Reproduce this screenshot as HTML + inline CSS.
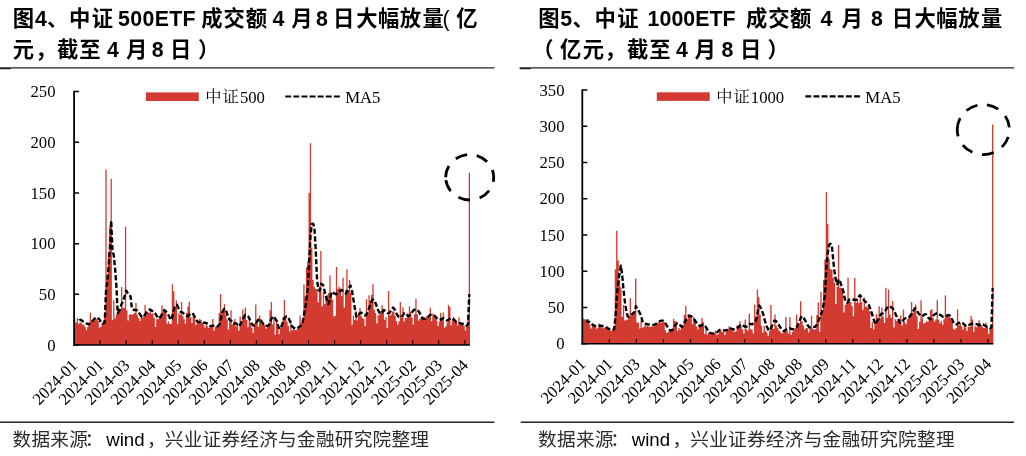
<!DOCTYPE html>
<html lang="zh"><head><meta charset="utf-8"><title>ETF</title>
<style>html,body{margin:0;padding:0;background:#fff}body{width:1026px;height:456px;overflow:hidden;font-family:"Liberation Sans",sans-serif}svg{display:block;filter:blur(0.4px)}</style></head><body>
<svg width="1026" height="456" viewBox="0 0 1026 456">
<title>中证500ETF与中证1000ETF成交额（亿元，截至4月8日）</title>
<desc>图4、中证 500ETF 成交额 4 月 8 日大幅放量；图5、中证 1000ETF 成交额 4 月 8 日大幅放量。图例：中证500 / 中证1000、MA5。数据来源：wind，兴业证券经济与金融研究院整理</desc>
<rect width="1026" height="456" fill="#fff"/>
<g stroke="#222" stroke-width="1.4">
<path d="M0 67.9H494.5M519.7 67.9H1014.2M0 422.3H494.4M520.7 422.3H1014"/>
<path stroke-width="1.1" d="M0 68.6H11M519.7 68.6H531"/>
</g>
<g aria-label="图4、中证 500ETF 成交额 4 月 8 日大幅放量( 亿元，截至 4 月 8 日 )">
<text y="26.00" x="12.67 47.02 68.94 91.78" font-family="'Liberation Sans', 'Noto Sans CJK SC', sans-serif" font-size="21.33" font-weight="bold" fill="#000">图、中证</text>
<text y="26.00" x="201.19 223.59 245.81" font-family="'Liberation Sans', 'Noto Sans CJK SC', sans-serif" font-size="21.33" font-weight="bold" fill="#000">成交额</text>
<text y="26.00" x="291.27" font-family="'Liberation Sans', 'Noto Sans CJK SC', sans-serif" font-size="21.33" font-weight="bold" fill="#000">月</text>
<text y="26.00" x="333.10 356.30 378.11 399.68 422.60" font-family="'Liberation Sans', 'Noto Sans CJK SC', sans-serif" font-size="21.33" font-weight="bold" fill="#000">日大幅放量</text>
<text y="26.00" x="456.22" font-family="'Liberation Sans', 'Noto Sans CJK SC', sans-serif" font-size="21.33" font-weight="bold" fill="#000">亿</text>
<text x="34.90" y="26.30" font-family="'Liberation Sans', sans-serif" font-size="21.33" font-weight="bold" fill="#000" text-anchor="start">4</text>
<text x="118.00" y="26.30" font-family="'Liberation Sans', sans-serif" font-size="21.33" font-weight="bold" fill="#000" text-anchor="start" letter-spacing="0.35">500ETF</text>
<text x="272.60" y="26.30" font-family="'Liberation Sans', sans-serif" font-size="21.33" font-weight="bold" fill="#000" text-anchor="start">4</text>
<text x="316.00" y="26.30" font-family="'Liberation Sans', sans-serif" font-size="21.33" font-weight="bold" fill="#000" text-anchor="start">8</text>
<text x="442.40" y="26.30" font-family="'Liberation Sans', sans-serif" font-size="21.33" font-weight="normal" fill="#000" text-anchor="start">(</text>
<text y="56.90" x="12.65 35.22 56.93 79.30" font-family="'Liberation Sans', 'Noto Sans CJK SC', sans-serif" font-size="21.33" font-weight="bold" fill="#000">元，截至</text>
<text y="56.90" x="126.02" font-family="'Liberation Sans', 'Noto Sans CJK SC', sans-serif" font-size="21.33" font-weight="bold" fill="#000">月</text>
<text y="56.90" x="170.10" font-family="'Liberation Sans', 'Noto Sans CJK SC', sans-serif" font-size="21.33" font-weight="bold" fill="#000">日</text>
<text y="56.90" x="197.92" font-family="'Liberation Sans', 'Noto Sans CJK SC', sans-serif" font-size="21.33" font-weight="bold" fill="#000">）</text>
<text x="107.10" y="57.00" font-family="'Liberation Sans', sans-serif" font-size="21.33" font-weight="bold" fill="#000" text-anchor="start">4</text>
<text x="151.70" y="57.00" font-family="'Liberation Sans', sans-serif" font-size="21.33" font-weight="bold" fill="#000" text-anchor="start">8</text>
</g>
<g aria-label="图5、中证 1000ETF 成交额 4 月 8 日大幅放量（亿元，截至 4 月 8 日）">
<text y="26.00" x="538.17 572.42 594.44 617.23" font-family="'Liberation Sans', 'Noto Sans CJK SC', sans-serif" font-size="21.33" font-weight="bold" fill="#000">图、中证</text>
<text y="26.00" x="746.04 768.14 789.96" font-family="'Liberation Sans', 'Noto Sans CJK SC', sans-serif" font-size="21.33" font-weight="bold" fill="#000">成交额</text>
<text y="26.00" x="841.62" font-family="'Liberation Sans', 'Noto Sans CJK SC', sans-serif" font-size="21.33" font-weight="bold" fill="#000">月</text>
<text y="26.00" x="891.75 914.60 936.31 958.33 981.00" font-family="'Liberation Sans', 'Noto Sans CJK SC', sans-serif" font-size="21.33" font-weight="bold" fill="#000">日大幅放量</text>
<text x="560.20" y="26.30" font-family="'Liberation Sans', sans-serif" font-size="21.33" font-weight="bold" fill="#000" text-anchor="start">5</text>
<text x="647.60" y="26.30" font-family="'Liberation Sans', sans-serif" font-size="21.33" font-weight="bold" fill="#000" text-anchor="start" letter-spacing="0.05">1000ETF</text>
<text x="820.60" y="26.30" font-family="'Liberation Sans', sans-serif" font-size="21.33" font-weight="bold" fill="#000" text-anchor="start">4</text>
<text x="870.90" y="26.30" font-family="'Liberation Sans', sans-serif" font-size="21.33" font-weight="bold" fill="#000" text-anchor="start">8</text>
<text y="56.90" x="532.25 560.12 582.70 604.62 626.88 649.15" font-family="'Liberation Sans', 'Noto Sans CJK SC', sans-serif" font-size="21.33" font-weight="bold" fill="#000">（亿元，截至</text>
<text y="56.90" x="694.47" font-family="'Liberation Sans', 'Noto Sans CJK SC', sans-serif" font-size="21.33" font-weight="bold" fill="#000">月</text>
<text y="56.90" x="739.90" font-family="'Liberation Sans', 'Noto Sans CJK SC', sans-serif" font-size="21.33" font-weight="bold" fill="#000">日</text>
<text y="56.90" x="767.62" font-family="'Liberation Sans', 'Noto Sans CJK SC', sans-serif" font-size="21.33" font-weight="bold" fill="#000">）</text>
<text x="676.00" y="57.00" font-family="'Liberation Sans', sans-serif" font-size="21.33" font-weight="bold" fill="#000" text-anchor="start">4</text>
<text x="721.50" y="57.00" font-family="'Liberation Sans', sans-serif" font-size="21.33" font-weight="bold" fill="#000" text-anchor="start">8</text>
</g>
<g aria-label="数据来源：wind，兴业证券经济与金融研究院整理">
<text y="445.60" x="12.57 31.47 50.37 69.27 84.78" font-family="'Liberation Sans', 'Noto Sans CJK SC', sans-serif" font-size="18.67" fill="#2b2b2b">数据来源：</text>
<text x="106.20" y="445.90" font-family="'Liberation Sans', sans-serif" font-size="18.67" font-weight="normal" fill="#000" text-anchor="start">wind</text>
<text y="445.60" x="146.96 164.76 183.65 202.54 221.43 240.32 259.21 278.10 296.99 315.88 334.77 353.66 372.55 391.44 410.33" font-family="'Liberation Sans', 'Noto Sans CJK SC', sans-serif" font-size="18.67" fill="#2b2b2b">，兴业证券经济与金融研究院整理</text>
</g>
<g aria-label="数据来源：wind，兴业证券经济与金融研究院整理">
<text y="445.60" x="538.12 557.02 575.92 594.82 610.33" font-family="'Liberation Sans', 'Noto Sans CJK SC', sans-serif" font-size="18.67" fill="#2b2b2b">数据来源：</text>
<text x="631.75" y="445.90" font-family="'Liberation Sans', sans-serif" font-size="18.67" font-weight="normal" fill="#000" text-anchor="start">wind</text>
<text y="445.60" x="672.51 690.31 709.20 728.09 746.98 765.87 784.76 803.65 822.54 841.43 860.32 879.21 898.10 916.99 935.88" font-family="'Liberation Sans', 'Noto Sans CJK SC', sans-serif" font-size="18.67" fill="#2b2b2b">，兴业证券经济与金融研究院整理</text>
</g>
<path fill="#d43b30" d="M74.10 345.00V319.5H75.40V322.7H76.70V318.1H78.01V323.7H79.31V322.2H80.61V323.0H81.91V324.7H83.22V324.4H84.52V327.1H85.82V330.3H87.12V327.1H88.43V324.6H89.73V312.7H91.03V320.5H92.33V321.5H93.63V320.7H94.94V319.0H96.24V318.9H97.54V321.1H98.84V327.7H100.15V326.7H101.45V322.9H102.75V320.4H104.05V315.6H105.36V169.6H106.66V276.6H107.96V252.4H109.26V225.7H110.56V178.8H111.87V319.9H113.17V300.4H114.47V318.5H115.77V314.6H117.08V312.9H118.38V311.7H119.68V310.3H120.98V286.9H122.29V307.4H123.59V308.1H124.89V226.4H126.19V310.3H127.49V320.5H128.80V314.7H130.10V313.9H131.40V315.0H132.70V314.1H134.01V313.1H135.31V303.0H136.61V314.8H137.91V318.1H139.21V321.0H140.52V317.5H141.82V318.1H143.12V315.5H144.42V305.1H145.73V314.6H147.03V312.3H148.33V313.0H149.63V311.3H150.94V314.0H152.24V313.2H153.54V318.1H154.84V327.1H156.14V319.1H157.45V319.2H158.75V316.3H160.05V315.3H161.35V305.3H162.66V312.0H163.96V310.1H165.26V312.4H166.56V323.8H167.87V321.5H169.17V324.1H170.47V324.0H171.77V284.3H173.07V291.2H174.38V308.9H175.68V300.4H176.98V324.0H178.28V313.2H179.59V314.6H180.89V302.0H182.19V316.0H183.49V319.2H184.80V323.7H186.10V312.9H187.40V306.5H188.70V301.7H190.00V317.2H191.31V323.0H192.61V316.3H193.91V317.0H195.21V324.9H196.52V320.3H197.82V321.1H199.12V319.1H200.42V319.9H201.73V322.7H203.03V324.7H204.33V327.5H205.63V322.8H206.93V326.3H208.24V328.1H209.54V326.8H210.84V326.7H212.14V319.0H213.45V330.5H214.75V326.7H216.05V326.0H217.35V325.8H218.66V312.9H219.96V294.0H221.26V313.6H222.56V311.2H223.86V304.3H225.17V314.6H226.47V319.6H227.77V329.5H229.07V321.6H230.38V310.3H231.68V324.9H232.98V321.8H234.28V319.0H235.59V326.4H236.89V324.6H238.19V330.4H239.49V316.3H240.79V324.1H242.10V309.8H243.40V316.0H244.70V307.5H246.00V319.9H247.31V327.2H248.61V320.9H249.91V322.8H251.21V327.7H252.52V333.1H253.82V323.0H255.12V304.5H256.42V323.3H257.72V326.7H259.03V315.5H260.33V319.1H261.63V324.6H262.93V324.3H264.24V324.7H265.54V328.8H266.84V327.5H268.14V323.4H269.44V310.2H270.75V301.9H272.05V324.2H273.35V317.9H274.65V334.7H275.96V320.0H277.26V328.0H278.56V334.3H279.86V328.1H281.17V324.9H282.47V317.6H283.77V299.9H285.07V317.5H286.37V321.7H287.68V325.9H288.98V331.6H290.28V320.3H291.58V330.5H292.89V327.0H294.19V330.0H295.49V330.2H296.79V329.0H298.10V328.0H299.40V315.4H300.70V322.7H302.00V321.7H303.30V284.4H304.61V296.4H305.91V267.2H307.21V261.2H308.51V193.0H309.82V143.3H311.12V247.5H312.42V280.1H313.72V287.0H315.03V289.0H316.33V289.5H317.63V302.3H318.93V286.4H320.23V251.1H321.54V306.5H322.84V292.0H324.14V304.3H325.44V296.1H326.75V294.9H328.05V293.0H329.35V275.4H330.65V293.1H331.96V299.6H333.26V316.6H334.56V315.8H335.86V267.1H337.16V288.9H338.47V286.6H339.77V288.5H341.07V296.3H342.37V277.8H343.68V307.4H344.98V290.0H346.28V269.2H347.58V290.3H348.89V279.9H350.19V292.7H351.49V324.7H352.79V315.4H354.09V320.1H355.40V311.0H356.70V320.2H358.00V312.4H359.30V307.9H360.61V316.0H361.91V317.9H363.21V319.1H364.51V326.1H365.82V299.3H367.12V313.6H368.42V295.3H369.72V300.5H371.02V294.8H372.33V284.3H373.63V309.8H374.93V313.1H376.23V323.6H377.54V315.6H378.84V314.6H380.14V311.2H381.44V305.2H382.75V309.0H384.05V319.7H385.35V317.2H386.65V328.0H387.95V291.0H389.26V315.6H390.56V314.6H391.86V311.6H393.16V311.5H394.47V315.9H395.77V320.9H397.07V324.8H398.37V321.6H399.67V302.1H400.98V317.9H402.28V307.3H403.58V321.4H404.88V317.7H406.19V318.1H407.49V316.2H408.79V306.2H410.09V311.7H411.40V317.7H412.70V324.4H414.00V314.1H415.30V298.7H416.60V314.2H417.91V320.7H419.21V318.8H420.51V318.0H421.81V317.4H423.12V318.7H424.42V318.0H425.72V316.1H427.02V318.0H428.33V314.8H429.63V307.8H430.93V321.2H432.23V313.5H433.53V316.9H434.84V318.6H436.14V320.6H437.44V326.1H438.74V321.4H440.05V312.8H441.35V320.0H442.65V312.5H443.95V327.8H445.26V326.3H446.56V322.4H447.86V305.1H449.16V307.1H450.46V325.2H451.77V319.1H453.07V316.9H454.37V320.6H455.67V321.7H456.98V325.4H458.28V317.2H459.58V323.3H460.88V324.0H462.19V323.9H463.49V325.9H464.79V330.4H466.09V324.7H467.39V316.4H468.70V172.7H470.00V345.00Z"/>
<polyline fill="none" stroke="#000" stroke-width="2.4" stroke-dasharray="5.2 2.4" stroke-linejoin="round" points="79.4,319.0 79.5,319.2 81.9,320.6 85.0,322.8 88.8,324.4 91.9,321.9 94.4,318.8 96.9,317.2 99.4,319.4 101.2,322.8 103.1,323.5 104.7,322.7 106.0,291.1 107.3,281.0 108.6,266.9 109.9,248.0 111.2,220.6 112.5,250.7 113.8,255.4 115.1,268.7 116.4,286.4 117.7,313.3 119.4,310.6 121.2,305.0 123.1,301.2 125.0,295.0 126.2,290.6 128.8,295.0 130.6,296.2 131.2,302.5 131.9,308.8 133.8,310.0 135.6,309.8 137.5,310.6 140.0,314.4 141.9,316.9 143.8,316.2 145.6,313.8 147.5,310.6 150.0,309.4 152.5,311.2 155.0,313.1 156.9,316.2 158.8,318.5 160.6,316.9 162.5,313.1 164.4,310.0 166.2,311.9 168.8,315.6 170.6,320.0 171.9,318.8 173.1,312.5 175.0,306.2 176.9,304.8 178.8,308.8 180.6,311.9 182.5,312.5 185.0,315.0 187.5,316.2 190.0,314.4 192.5,313.1 194.4,316.2 196.2,320.0 198.0,321.9 200.5,322.2 203.0,322.8 205.5,322.8 208.0,323.8 210.5,326.2 213.0,325.6 215.5,326.2 218.0,326.2 219.9,323.8 221.1,317.5 222.4,311.9 224.2,308.8 226.1,310.6 228.0,316.9 229.9,320.0 231.8,321.2 233.6,323.8 235.5,323.1 237.4,324.4 239.2,326.2 241.1,323.1 243.0,318.8 244.9,315.0 246.8,315.6 248.6,316.9 250.5,321.2 252.4,325.0 254.2,325.6 256.1,323.1 258.0,320.0 259.9,318.8 261.8,321.9 263.6,324.4 265.5,325.0 267.4,326.2 269.2,325.0 271.1,319.4 273.0,316.2 274.9,318.1 276.8,321.2 278.6,327.5 280.5,328.8 282.4,323.8 284.2,318.1 286.1,316.5 288.0,316.9 289.9,321.2 291.8,326.2 293.6,327.5 295.5,328.8 297.4,328.1 299.2,326.9 301.1,325.6 302.4,323.8 304.0,314.4 305.3,308.1 306.6,298.5 307.9,286.2 309.2,260.4 310.5,235.5 311.8,223.9 313.1,223.6 314.4,227.4 315.7,249.4 317.0,278.6 318.3,289.6 319.6,290.8 321.2,283.8 323.1,285.0 325.0,292.5 326.9,300.0 328.5,304.2 330.0,298.8 331.6,291.8 333.8,293.1 336.0,294.2 338.8,292.5 341.6,289.9 343.8,291.9 346.0,293.6 348.1,290.0 350.4,285.5 351.9,290.0 353.1,297.5 354.8,308.0 356.2,316.2 357.5,316.9 359.4,313.8 361.2,312.5 363.1,314.4 365.0,315.6 366.9,313.8 368.8,308.8 370.6,303.8 372.5,299.4 374.4,300.0 376.2,305.0 378.1,310.0 380.0,313.8 381.9,312.5 383.8,310.0 385.6,311.2 387.5,313.1 389.4,313.1 391.2,310.0 393.1,307.5 395.0,310.0 396.9,314.4 398.8,316.9 400.6,317.5 402.5,315.6 404.4,313.1 406.2,313.8 408.1,316.2 410.0,315.0 411.9,312.5 413.8,310.0 415.6,309.4 417.5,310.0 419.4,312.5 421.2,316.2 423.1,318.8 425.0,318.8 426.9,316.9 428.1,316.9 430.0,315.0 431.9,314.4 433.8,315.0 435.6,316.9 437.5,318.8 439.4,320.0 441.2,319.4 443.1,318.1 445.0,319.4 446.9,320.6 448.8,319.4 450.6,318.1 452.5,318.5 454.4,320.0 456.2,321.9 458.1,323.1 460.0,323.1 461.9,323.8 463.8,324.0 465.6,324.4 466.7,325.7 468.0,324.2 469.3,294.0"/>
<g stroke="#000" stroke-width="1.5" fill="none">
<path stroke-width="1.8" d="M74.10 90.85V345.80"/>
<path stroke-width="1.6" d="M73.20 345.00H469.90"/>
<path d="M74.10 345.00h5M74.10 294.32h5M74.10 243.64h5M74.10 192.96h5M74.10 142.28h5M74.10 91.60h5"/>
<path stroke="#2a0000" stroke-width="1.25" d="M100.15 345.00v-4.8M126.19 345.00v-4.8M152.24 345.00v-4.8M178.28 345.00v-4.8M204.33 345.00v-4.8M230.38 345.00v-4.8M256.42 345.00v-4.8M282.47 345.00v-4.8M308.51 345.00v-4.8M334.56 345.00v-4.8M360.61 345.00v-4.8M386.65 345.00v-4.8M412.70 345.00v-4.8M438.74 345.00v-4.8M464.79 345.00v-4.8"/>
</g>
<text x="55.50" y="350.70" font-family="'Liberation Serif', sans-serif" font-size="16.7" font-weight="normal" fill="#000" text-anchor="end">0</text>
<text x="55.50" y="300.02" font-family="'Liberation Serif', sans-serif" font-size="16.7" font-weight="normal" fill="#000" text-anchor="end">50</text>
<text x="55.50" y="249.34" font-family="'Liberation Serif', sans-serif" font-size="16.7" font-weight="normal" fill="#000" text-anchor="end">100</text>
<text x="55.50" y="198.66" font-family="'Liberation Serif', sans-serif" font-size="16.7" font-weight="normal" fill="#000" text-anchor="end">150</text>
<text x="55.50" y="147.98" font-family="'Liberation Serif', sans-serif" font-size="16.7" font-weight="normal" fill="#000" text-anchor="end">200</text>
<text x="55.50" y="97.30" font-family="'Liberation Serif', sans-serif" font-size="16.7" font-weight="normal" fill="#000" text-anchor="end">250</text>
<text transform="translate(78.50 366.30) rotate(-45)" font-family="'Liberation Serif', serif" font-size="16.7" text-anchor="end">2024-01</text>
<text transform="translate(104.55 366.30) rotate(-45)" font-family="'Liberation Serif', serif" font-size="16.7" text-anchor="end">2024-01</text>
<text transform="translate(130.59 366.30) rotate(-45)" font-family="'Liberation Serif', serif" font-size="16.7" text-anchor="end">2024-03</text>
<text transform="translate(156.64 366.30) rotate(-45)" font-family="'Liberation Serif', serif" font-size="16.7" text-anchor="end">2024-04</text>
<text transform="translate(182.68 366.30) rotate(-45)" font-family="'Liberation Serif', serif" font-size="16.7" text-anchor="end">2024-05</text>
<text transform="translate(208.73 366.30) rotate(-45)" font-family="'Liberation Serif', serif" font-size="16.7" text-anchor="end">2024-06</text>
<text transform="translate(234.78 366.30) rotate(-45)" font-family="'Liberation Serif', serif" font-size="16.7" text-anchor="end">2024-07</text>
<text transform="translate(260.82 366.30) rotate(-45)" font-family="'Liberation Serif', serif" font-size="16.7" text-anchor="end">2024-08</text>
<text transform="translate(286.87 366.30) rotate(-45)" font-family="'Liberation Serif', serif" font-size="16.7" text-anchor="end">2024-08</text>
<text transform="translate(312.91 366.30) rotate(-45)" font-family="'Liberation Serif', serif" font-size="16.7" text-anchor="end">2024-09</text>
<text transform="translate(338.96 366.30) rotate(-45)" font-family="'Liberation Serif', serif" font-size="16.7" text-anchor="end">2024-11</text>
<text transform="translate(365.01 366.30) rotate(-45)" font-family="'Liberation Serif', serif" font-size="16.7" text-anchor="end">2024-12</text>
<text transform="translate(391.05 366.30) rotate(-45)" font-family="'Liberation Serif', serif" font-size="16.7" text-anchor="end">2024-12</text>
<text transform="translate(417.10 366.30) rotate(-45)" font-family="'Liberation Serif', serif" font-size="16.7" text-anchor="end">2025-02</text>
<text transform="translate(443.14 366.30) rotate(-45)" font-family="'Liberation Serif', serif" font-size="16.7" text-anchor="end">2025-03</text>
<text transform="translate(469.19 366.30) rotate(-45)" font-family="'Liberation Serif', serif" font-size="16.7" text-anchor="end">2025-04</text>
<path fill="#d43b30" d="M582.30 343.70V318.2H583.65V319.2H585.00V319.6H586.36V321.3H587.71V323.1H589.06V324.2H590.41V328.6H591.77V325.6H593.12V326.0H594.47V326.4H595.82V328.8H597.18V327.8H598.53V323.4H599.88V326.4H601.23V327.2H602.58V328.2H603.94V327.4H605.29V327.4H606.64V328.5H607.99V329.8H609.35V331.1H610.70V330.7H612.05V328.7H613.40V327.0H614.76V269.3H616.11V230.7H617.46V260.4H618.81V280.2H620.16V287.4H621.52V317.0H622.87V305.0H624.22V320.6H625.57V319.7H626.93V319.4H628.28V317.7H629.63V298.3H630.98V315.6H632.34V312.9H633.69V312.3H635.04V278.5H636.39V322.4H637.74V322.7H639.10V328.4H640.45V320.6H641.80V327.8H643.15V327.0H644.51V325.1H645.86V326.4H647.21V325.0H648.56V327.1H649.91V326.8H651.27V326.3H652.62V327.1H653.97V326.1H655.32V323.6H656.68V323.8H658.03V322.1H659.38V322.7H660.73V322.8H662.09V321.6H663.44V321.9H664.79V330.3H666.14V333.0H667.49V332.1H668.85V329.4H670.20V329.0H671.55V328.7H672.90V318.8H674.26V320.9H675.61V321.6H676.96V330.9H678.31V328.0H679.67V329.9H681.02V327.6H682.37V325.6H683.72V315.0H685.07V305.8H686.43V319.7H687.78V314.3H689.13V316.5H690.48V315.8H691.84V324.2H693.19V316.9H694.54V319.3H695.89V326.6H697.25V329.5H698.60V326.8H699.95V324.0H701.30V317.9H702.65V322.2H704.01V334.1H705.36V329.3H706.71V334.6H708.06V332.8H709.42V332.8H710.77V333.9H712.12V334.0H713.47V333.0H714.83V330.6H716.18V334.9H717.53V334.0H718.88V331.1H720.23V330.2H721.59V331.9H722.94V332.0H724.29V335.0H725.64V331.2H727.00V329.5H728.35V326.2H729.70V328.1H731.05V328.1H732.41V329.6H733.76V332.2H735.11V331.6H736.46V325.2H737.81V326.1H739.17V321.3H740.52V326.8H741.87V329.5H743.22V333.6H744.58V319.6H745.93V329.3H747.28V330.6H748.63V313.7H749.99V329.1H751.34V329.7H752.69V333.4H754.04V304.4H755.39V321.0H756.75V289.6H758.10V297.2H759.45V314.4H760.80V325.8H762.16V332.8H763.51V326.1H764.86V330.8H766.21V332.4H767.57V335.8H768.92V330.7H770.27V304.9H771.62V328.3H772.97V329.1H774.33V314.5H775.68V325.8H777.03V328.0H778.38V330.2H779.74V331.8H781.09V333.5H782.44V332.7H783.79V331.4H785.14V316.9H786.50V331.1H787.85V333.6H789.20V317.3H790.55V334.7H791.91V331.8H793.26V330.7H794.61V328.1H795.96V314.4H797.32V324.1H798.67V324.7H800.02V301.3H801.37V321.3H802.72V325.8H804.08V329.6H805.43V328.0H806.78V328.2H808.13V332.4H809.49V328.4H810.84V315.8H812.19V328.4H813.54V329.7H814.90V329.0H816.25V315.1H817.60V302.5H818.95V331.7H820.30V291.7H821.66V312.0H823.01V280.0H824.36V259.4H825.71V191.9H827.07V224.1H828.42V259.0H829.77V269.0H831.12V269.8H832.48V277.8H833.83V282.8H835.18V304.1H836.53V287.0H837.88V244.9H839.24V287.5H840.59V288.1H841.94V292.6H843.29V312.6H844.65V304.9H846.00V302.3H847.35V277.7H848.70V302.2H850.06V301.9H851.41V306.1H852.76V316.3H854.11V277.8H855.46V302.8H856.82V299.6H858.17V303.1H859.52V294.8H860.87V302.0H862.23V309.7H863.58V297.6H864.93V306.7H866.28V306.4H867.64V307.7H868.99V311.4H870.34V328.0H871.69V322.0H873.04V329.4H874.40V323.4H875.75V313.9H877.10V321.7H878.45V306.3H879.81V318.3H881.16V307.4H882.51V316.4H883.86V323.1H885.22V287.8H886.57V317.8H887.92V289.4H889.27V314.8H890.62V318.0H891.98V301.0H893.33V327.5H894.68V319.2H896.03V321.1H897.39V320.8H898.74V319.6H900.09V315.6H901.44V325.6H902.80V309.5H904.15V321.8H905.50V324.3H906.85V319.0H908.20V317.8H909.56V315.0H910.91V302.0H912.26V312.7H913.61V311.0H914.97V304.6H916.32V316.2H917.67V328.9H919.02V321.7H920.38V300.2H921.73V318.2H923.08V323.6H924.43V322.9H925.78V321.2H927.14V321.7H928.49V320.3H929.84V310.2H931.19V309.2H932.55V317.9H933.90V321.8H935.25V319.6H936.60V300.2H937.95V319.7H939.31V323.2H940.66V321.0H942.01V324.7H943.36V319.3H944.72V295.4H946.07V316.4H947.42V315.9H948.77V316.3H950.13V318.3H951.48V321.2H952.83V328.8H954.18V329.7H955.53V328.0H956.89V309.5H958.24V325.3H959.59V323.4H960.94V326.2H962.30V329.8H963.65V325.2H965.00V327.7H966.35V330.9H967.71V326.8H969.06V327.0H970.41V315.7H971.76V319.5H973.11V331.7H974.47V326.3H975.82V327.3H977.17V325.5H978.52V320.3H979.88V323.6H981.23V325.6H982.58V327.7H983.93V328.1H985.29V322.6H986.64V327.3H987.99V334.0H989.34V328.4H990.69V325.7H992.05V124.6H993.40V343.70Z"/>
<polyline fill="none" stroke="#000" stroke-width="2.4" stroke-dasharray="5.2 2.4" stroke-linejoin="round" points="587.4,319.4 587.5,322.0 589.9,321.9 592.4,324.4 594.9,326.0 597.4,326.5 599.9,325.6 602.4,326.0 604.9,326.5 607.4,328.1 609.9,329.4 612.4,328.8 614.1,329.5 615.4,317.3 616.8,297.3 618.1,283.2 619.5,273.5 620.8,265.6 622.2,275.1 623.5,290.0 624.9,302.0 626.2,309.9 627.6,316.3 628.6,316.9 630.5,315.6 632.4,313.8 634.2,312.5 635.2,310.0 635.8,306.2 637.4,308.8 639.2,311.9 641.1,315.6 642.4,321.2 644.2,323.5 646.1,324.0 648.6,324.4 651.1,325.0 653.6,325.0 656.1,323.8 658.6,321.9 661.1,320.6 663.0,320.6 664.9,322.5 666.8,325.6 668.6,328.8 670.5,330.6 672.4,330.0 674.2,326.9 676.1,323.8 678.0,323.1 679.9,325.0 681.8,326.9 683.6,325.0 685.5,320.6 687.4,317.5 689.2,315.6 691.1,316.2 693.0,318.1 694.9,320.6 696.8,323.1 698.6,325.0 700.0,326.2 702.5,325.0 705.0,325.6 706.9,328.8 709.4,332.5 711.9,333.5 714.4,333.5 716.9,332.5 719.4,330.0 721.9,329.8 724.4,330.6 726.9,330.0 729.4,328.1 731.9,328.8 734.4,329.4 736.9,328.1 739.4,326.2 741.2,324.4 743.1,325.6 745.6,326.9 748.1,326.2 750.0,323.8 751.9,324.4 753.8,323.1 755.6,321.2 756.9,316.2 758.1,310.0 759.4,305.6 761.2,308.8 763.1,313.8 765.0,321.2 766.9,326.9 768.8,330.6 770.6,328.8 772.5,325.0 774.4,320.6 776.2,321.2 778.1,323.8 780.0,326.9 781.9,329.4 783.8,331.2 785.6,330.0 787.5,328.8 789.4,328.1 791.2,328.8 793.1,329.4 795.0,328.8 796.9,326.9 798.8,323.1 800.6,318.1 801.9,316.2 803.8,318.1 805.6,321.2 807.5,325.0 809.4,327.5 811.2,326.9 813.1,326.9 815.0,326.9 816.9,324.4 818.8,320.0 821.0,314.0 822.3,310.6 823.7,303.6 825.0,295.0 826.4,267.0 827.7,253.5 829.1,244.8 830.4,243.7 831.8,245.2 833.2,260.0 834.5,271.7 835.9,280.7 837.2,284.3 838.6,279.3 839.9,281.2 842.0,287.0 843.2,290.8 844.5,297.0 845.8,302.0 847.6,302.6 849.5,299.5 852.0,298.9 854.5,300.1 857.0,299.5 858.9,296.4 860.1,295.1 861.4,297.6 863.2,299.5 865.1,301.4 867.0,303.2 868.9,305.1 870.1,308.2 871.4,312.0 872.6,315.8 873.8,320.0 875.6,324.4 877.5,320.6 879.4,316.9 881.2,313.8 883.1,313.1 885.0,311.2 886.9,308.1 888.8,306.2 890.6,306.9 892.5,308.1 894.4,311.2 896.2,315.6 898.1,318.8 900.0,323.1 901.9,321.9 903.8,319.4 905.6,318.1 907.5,318.1 909.4,316.9 911.2,314.4 913.1,311.2 915.0,308.1 916.9,310.6 918.8,313.8 920.6,315.6 922.5,316.2 924.4,314.4 926.2,314.4 928.1,317.5 930.0,319.4 931.9,316.9 933.8,315.0 935.6,313.8 937.5,313.1 939.4,314.4 941.2,315.6 943.1,316.9 945.0,316.2 946.9,315.6 948.0,315.0 949.9,315.6 951.1,317.5 952.4,320.0 953.6,322.5 954.9,324.4 956.8,324.4 958.6,323.1 960.5,322.2 962.4,322.8 964.2,324.4 966.1,326.0 968.0,326.2 969.9,324.4 971.8,323.8 973.6,323.8 975.5,323.8 977.4,324.4 979.2,325.0 981.1,324.8 983.0,324.4 984.9,325.6 986.8,326.5 988.6,327.2 990.0,328.1 991.4,327.6 992.7,288.0"/>
<g stroke="#000" stroke-width="1.5" fill="none">
<path stroke-width="1.8" d="M582.30 89.35V344.50"/>
<path stroke-width="1.6" d="M581.40 343.70H993.40"/>
<path d="M582.30 343.70h5M582.30 307.47h5M582.30 271.24h5M582.30 235.01h5M582.30 198.79h5M582.30 162.56h5M582.30 126.33h5M582.30 90.10h5"/>
<path stroke="#2a0000" stroke-width="1.25" d="M609.35 343.70v-4.8M636.39 343.70v-4.8M663.44 343.70v-4.8M690.48 343.70v-4.8M717.53 343.70v-4.8M744.58 343.70v-4.8M771.62 343.70v-4.8M798.67 343.70v-4.8M825.71 343.70v-4.8M852.76 343.70v-4.8M879.81 343.70v-4.8M906.85 343.70v-4.8M933.90 343.70v-4.8M960.94 343.70v-4.8M987.99 343.70v-4.8"/>
</g>
<text x="564.50" y="349.40" font-family="'Liberation Serif', sans-serif" font-size="16.7" font-weight="normal" fill="#000" text-anchor="end">0</text>
<text x="564.50" y="313.17" font-family="'Liberation Serif', sans-serif" font-size="16.7" font-weight="normal" fill="#000" text-anchor="end">50</text>
<text x="564.50" y="276.94" font-family="'Liberation Serif', sans-serif" font-size="16.7" font-weight="normal" fill="#000" text-anchor="end">100</text>
<text x="564.50" y="240.71" font-family="'Liberation Serif', sans-serif" font-size="16.7" font-weight="normal" fill="#000" text-anchor="end">150</text>
<text x="564.50" y="204.49" font-family="'Liberation Serif', sans-serif" font-size="16.7" font-weight="normal" fill="#000" text-anchor="end">200</text>
<text x="564.50" y="168.26" font-family="'Liberation Serif', sans-serif" font-size="16.7" font-weight="normal" fill="#000" text-anchor="end">250</text>
<text x="564.50" y="132.03" font-family="'Liberation Serif', sans-serif" font-size="16.7" font-weight="normal" fill="#000" text-anchor="end">300</text>
<text x="564.50" y="95.80" font-family="'Liberation Serif', sans-serif" font-size="16.7" font-weight="normal" fill="#000" text-anchor="end">350</text>
<text transform="translate(586.70 365.20) rotate(-45)" font-family="'Liberation Serif', serif" font-size="16.7" text-anchor="end">2024-01</text>
<text transform="translate(613.75 365.20) rotate(-45)" font-family="'Liberation Serif', serif" font-size="16.7" text-anchor="end">2024-01</text>
<text transform="translate(640.79 365.20) rotate(-45)" font-family="'Liberation Serif', serif" font-size="16.7" text-anchor="end">2024-03</text>
<text transform="translate(667.84 365.20) rotate(-45)" font-family="'Liberation Serif', serif" font-size="16.7" text-anchor="end">2024-04</text>
<text transform="translate(694.88 365.20) rotate(-45)" font-family="'Liberation Serif', serif" font-size="16.7" text-anchor="end">2024-05</text>
<text transform="translate(721.93 365.20) rotate(-45)" font-family="'Liberation Serif', serif" font-size="16.7" text-anchor="end">2024-06</text>
<text transform="translate(748.98 365.20) rotate(-45)" font-family="'Liberation Serif', serif" font-size="16.7" text-anchor="end">2024-07</text>
<text transform="translate(776.02 365.20) rotate(-45)" font-family="'Liberation Serif', serif" font-size="16.7" text-anchor="end">2024-08</text>
<text transform="translate(803.07 365.20) rotate(-45)" font-family="'Liberation Serif', serif" font-size="16.7" text-anchor="end">2024-08</text>
<text transform="translate(830.11 365.20) rotate(-45)" font-family="'Liberation Serif', serif" font-size="16.7" text-anchor="end">2024-09</text>
<text transform="translate(857.16 365.20) rotate(-45)" font-family="'Liberation Serif', serif" font-size="16.7" text-anchor="end">2024-11</text>
<text transform="translate(884.21 365.20) rotate(-45)" font-family="'Liberation Serif', serif" font-size="16.7" text-anchor="end">2024-12</text>
<text transform="translate(911.25 365.20) rotate(-45)" font-family="'Liberation Serif', serif" font-size="16.7" text-anchor="end">2024-12</text>
<text transform="translate(938.30 365.20) rotate(-45)" font-family="'Liberation Serif', serif" font-size="16.7" text-anchor="end">2025-02</text>
<text transform="translate(965.34 365.20) rotate(-45)" font-family="'Liberation Serif', serif" font-size="16.7" text-anchor="end">2025-03</text>
<text transform="translate(992.39 365.20) rotate(-45)" font-family="'Liberation Serif', serif" font-size="16.7" text-anchor="end">2025-04</text>
<path fill="none" stroke="#000" stroke-width="2.8" stroke-dasharray="12 9.8" d="M445.7 177.3A24.0 22.7 0 1 1 493.7 177.3A24.0 22.7 0 1 1 445.7 177.3"/>
<path fill="none" stroke="#000" stroke-width="2.8" stroke-dasharray="12 9.8" d="M957.2 129.6A26.1 25.0 0 1 1 1009.4 129.6A26.1 25.0 0 1 1 957.2 129.6"/>
<rect x="145.9" y="92.4" width="52.9" height="8.6" fill="#d43b30"/>
<g aria-label="中证500">
<text y="102.30" x="205.32 222.49" font-family="'Liberation Serif', 'Noto Serif CJK SC', serif" font-size="16.3" fill="#000">中证</text>
<text x="239.90" y="102.90" font-family="'Liberation Serif', sans-serif" font-size="16.7" font-weight="normal" fill="#000" text-anchor="start">500</text>
</g>
<path stroke="#000" stroke-width="2.1" stroke-dasharray="5.9 2.2" d="M285.3 96.5h54.6"/>
<text x="345.20" y="102.90" font-family="'Liberation Serif', sans-serif" font-size="16.7" font-weight="normal" fill="#000" text-anchor="start">MA5</text>
<rect x="656.8" y="92.3" width="52.9" height="8.6" fill="#d43b30"/>
<g aria-label="中证1000">
<text y="102.20" x="716.22 733.39" font-family="'Liberation Serif', 'Noto Serif CJK SC', serif" font-size="16.3" fill="#000">中证</text>
<text x="750.80" y="102.80" font-family="'Liberation Serif', sans-serif" font-size="16.7" font-weight="normal" fill="#000" text-anchor="start">1000</text>
</g>
<path stroke="#000" stroke-width="2.1" stroke-dasharray="5.9 2.2" d="M805.4 96.4h54.6"/>
<text x="865.30" y="102.80" font-family="'Liberation Serif', sans-serif" font-size="16.7" font-weight="normal" fill="#000" text-anchor="start">MA5</text>
</svg></body></html>
